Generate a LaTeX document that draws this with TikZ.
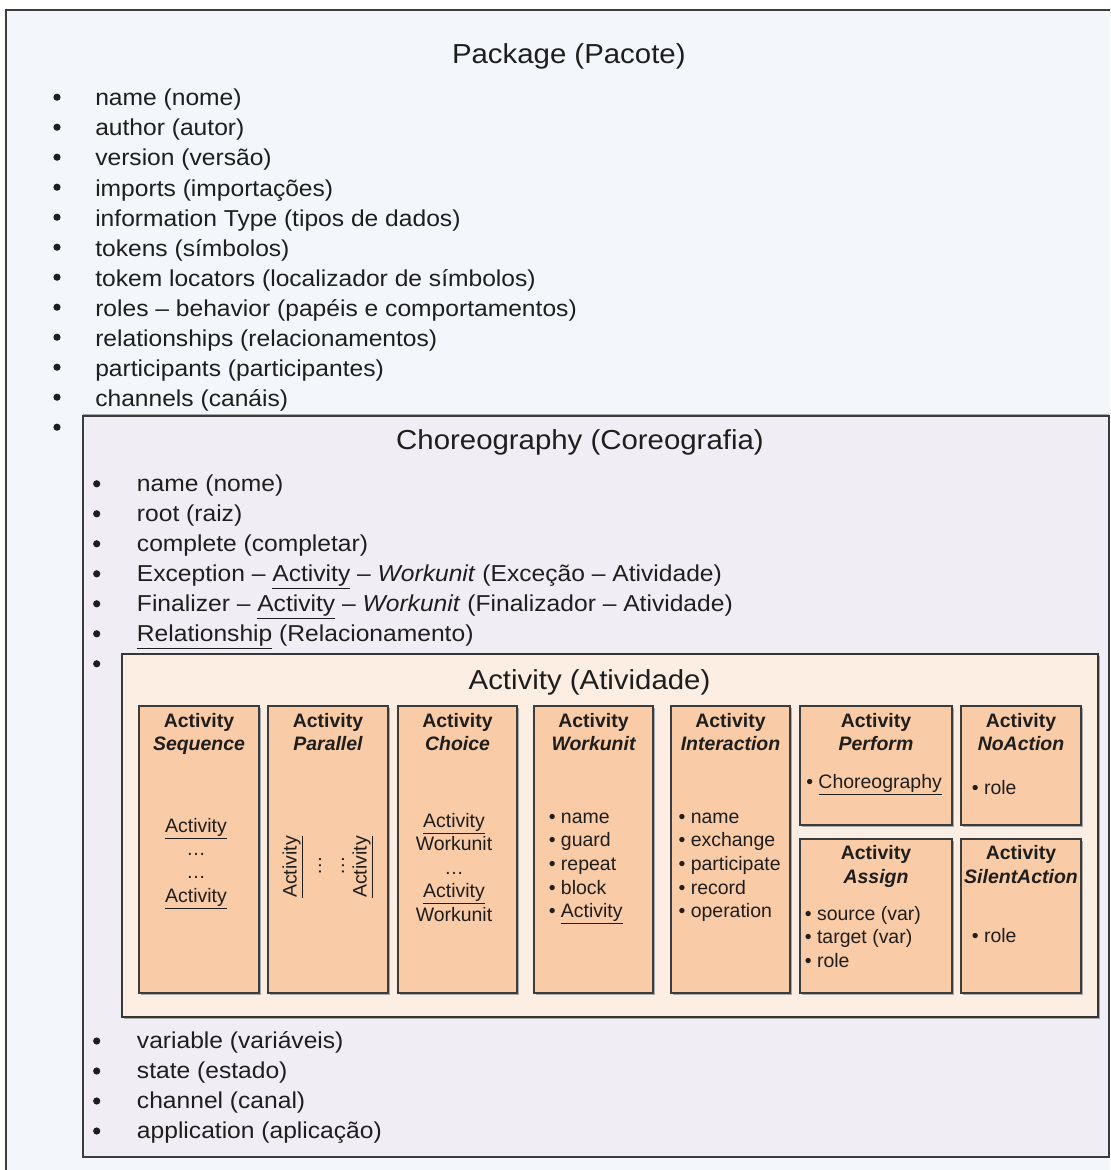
\documentclass[tikz,border=0pt]{standalone}
\usepackage{fontspec}
\setmainfont{Liberation Sans}[FakeStretch=1.07]
\newfontfamily\boxfamily{Liberation Sans}

\definecolor{ink}{HTML}{1E1E1E}
\definecolor{edge}{HTML}{3C3C3C}
\definecolor{shade}{HTML}{A8A8A8}
\definecolor{pkgfill}{HTML}{F3F6FA}
\definecolor{chorfill}{HTML}{F0EEF4}
\definecolor{actfill}{HTML}{FDEEE3}
\definecolor{boxfill}{HTML}{F9CBA6}

% rectangular node given by its corners (in px units)
\newcommand\cornerbox[6]{%
  \node[#1, minimum width={0.75*(#5-#3)}, minimum height={0.75*(#6-#4)}] (#2) at (#3,#4) {};}

\begin{document}
\begin{tikzpicture}[x=0.75pt,y=-0.75pt,
  txt/.style={text=ink, inner sep=0pt},
  item/.style={txt, anchor=base west, font=\fontsize{17.25}{20.7}\selectfont},
  bul/.style={circle, fill=ink, inner sep=0pt, minimum size=5.4pt},
  ttl/.style={txt, anchor=base, font=\fontsize{20.6}{24.7}\selectfont},
  hd/.style={txt, anchor=base, font=\boxfamily\bfseries\fontsize{14.6}{17.5}\selectfont},
  hdi/.style={txt, anchor=base, font=\boxfamily\bfseries\itshape\fontsize{14.6}{17.5}\selectfont},
  bx/.style={txt, font=\boxfamily\fontsize{14.6}{17.5}\selectfont},
  bxc/.style={bx, anchor=base},
  bxl/.style={bx, anchor=base west},
  frame/.style={anchor=north west, inner sep=0pt, outer sep=0pt},
  pkgbox/.style={frame, draw=edge, fill=pkgfill, line width=1.6pt},
  chorbox/.style={frame, draw=edge, fill=chorfill, line width=1.5pt},
  actbox/.style={frame, draw=edge!90!black, fill=actfill, line width=1.3pt},
  kindbox/.style={frame, draw=edge, fill=boxfill, line width=1.1pt},
  shadowline/.style={draw=shade, line width=1pt}
]
\useasboundingbox (0,0) rectangle (1110,1170);
\fill[white] (0,0) rectangle (1110,1170);

% package frame (runs past the page on the right and bottom)
\begin{scope}
  \clip (0,0) rectangle (1110,1170);
  \cornerbox{pkgbox}{package}{6}{10}{1130}{1190}
\end{scope}

\node[ttl] (pktitle) at (568.8,64) {Package (Pacote)};

\foreach \t [count=\i from 0] in {
  {name (nome)}, {author (autor)}, {version (versão)},
  {imports (importações)}, {information Type (tipos de dados)},
  {tokens (símbolos)}, {tokem locators (localizador de símbolos)},
  {roles – behavior (papéis e comportamentos)},
  {relationships (relacionamentos)}, {participants (participantes)},
  {channels (canáis)}}{
  \node[bul] (pkb\i) at (57,97.2+30*\i) {};
  \node[item] (pk\i) at (95,106+30*\i) {\t};
}
\node[bul] (pkb11) at (57,427.2) {};

% choreography frame
\cornerbox{chorbox}{chor}{83}{416}{1109}{1157}
\draw[shadowline] ([shift={(0,-1.5)}]chor.north west) -- ([shift={(0,-1.5)}]chor.north east);
\node[ttl] (chtitle) at (580,449) {Choreography (Coreografia)};

\foreach \t [count=\i from 0] in {
  {name (nome)}, {root (raiz)}, {complete (completar)},
  {Exception – \underline{Activity} – \textit{Workunit} (Exceção – Atividade)},
  {Finalizer – \underline{Activity} – \textit{Workunit} (Finalizador – Atividade)},
  {\underline{Relationship} (Relacionamento)}}{
  \node[bul] (chb\i) at (96.7,483.8+30*\i) {};
  \node[item] (ch\i) at (136.7,491.8+30*\i) {\t};
}
\node[bul] (chb6) at (96.7,663.8) {};

\foreach \t [count=\i from 0] in {
  {variable (variáveis)}, {state (estado)}, {channel (canal)},
  {application (aplicação)}}{
  \node[bul] (cha\i) at (96.7,1041+30*\i) {};
  \node[item] (chx\i) at (136.7,1048.5+30*\i) {\t};
}

% activity frame
\cornerbox{actbox}{act}{122}{654}{1098}{1017}
\draw[shadowline] ([shift={(1.5,2)}]act.north east) -- ([shift={(1.5,1.5)}]act.south east) -- ([shift={(2,1.5)}]act.south west);
\node[ttl] (actitle) at (589.5,689) {Activity (Atividade)};

% activity kinds
\cornerbox{kindbox}{seq}{139}{706}{259}{993}
\cornerbox{kindbox}{par}{268}{706}{388}{993}
\cornerbox{kindbox}{cho}{398}{706}{517}{993}
\cornerbox{kindbox}{wu}{534}{706}{653}{993}
\cornerbox{kindbox}{inter}{671}{706}{790}{993}
\cornerbox{kindbox}{perf}{800}{706}{952}{825}
\cornerbox{kindbox}{noact}{961}{706}{1081}{825}
\cornerbox{kindbox}{asg}{800}{839}{952}{993}
\cornerbox{kindbox}{sil}{961}{839}{1081}{993}
\foreach \n in {seq,par,cho,wu,inter,perf,noact,asg,sil}{
  \draw[shadowline] ([shift={(1.5,2)}]\n.north east) -- ([shift={(1.5,1.5)}]\n.south east) -- ([shift={(2,1.5)}]\n.south west);
}

% headers
\foreach \n/\x/\k in {seq/199/Sequence, par/328/Parallel, cho/457.5/Choice,
                      wu/593.5/Workunit, inter/730.5/Interaction,
                      perf/876/Perform, noact/1021/NoAction}{
  \node[hd] (\n-h1) at (\x,727) {Activity};
  \node[hdi] (\n-h2) at (\x,750.5) {\k};
}
\foreach \n/\x/\k in {asg/876/Assign, sil/1021/SilentAction}{
  \node[hd] (\n-h1) at (\x,859.5) {Activity};
  \node[hdi] (\n-h2) at (\x,883) {\k};
}

% Sequence
\node[bxc] (seq1) at (196,832) {\underline{Activity}};
\node[bxc] (seq2) at (196,855.3) {…};
\node[bxc] (seq3) at (196,878.6) {…};
\node[bxc] (seq4) at (196,902) {\underline{Activity}};

% Parallel
\node[bx, rotate=90] (par1) at (293,867) {\underline{Activity}};
\node[bx, rotate=90] (par2) at (320,866) {…};
\node[bx, rotate=90] (par3) at (343,866) {…};
\node[bx, rotate=90] (par4) at (363,867) {\underline{Activity}};

% Choice
\node[bxc] (cho1) at (454,827) {\underline{Activity}};
\node[bxc] (cho2) at (454,850.5) {Workunit};
\node[bxc] (cho3) at (454,874) {…};
\node[bxc] (cho4) at (454,897.5) {\underline{Activity}};
\node[bxc] (cho5) at (454,921) {Workunit};

% Workunit
\foreach \t [count=\i from 0] in {name, guard, repeat, block, {\underline{Activity}}}{
  \node[bxl] (wu\i) at (548.5,823+23.7*\i) {• \t};
}
% Interaction
\foreach \t [count=\i from 0] in {name, exchange, participate, record, operation}{
  \node[bxl] (inter\i) at (678.3,823+23.7*\i) {• \t};
}
% Perform, NoAction
\node[bxl] (perf1) at (806,788) {• \underline{Choreography}};
\node[bxl] (noact1) at (971.6,794) {• role};
% Assign
\foreach \t [count=\i from 0] in {{source (var)}, {target (var)}, role}{
  \node[bxl] (asg\i) at (804.6,920+23.5*\i) {• \t};
}
% SilentAction
\node[bxl] (sil1) at (971.6,942) {• role};
\end{tikzpicture}
\end{document}
